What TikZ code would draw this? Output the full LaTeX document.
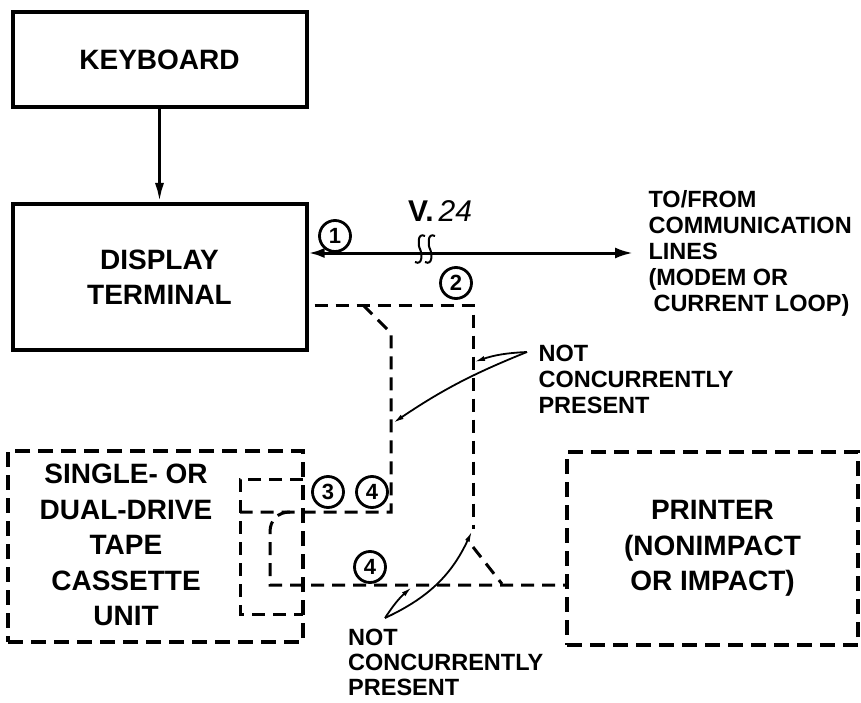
\documentclass[tikz,border=0pt]{standalone}
\usepackage{fontspec}
\setmainfont{Liberation Sans}
\usepackage{tikz}
\usetikzlibrary{arrows.meta}
\tikzset{
	solidbox/.style={draw, line width=4pt, minimum width=294pt},
	dashbox/.style={draw, line width=4pt, dash pattern=on 15pt off 8pt},
	sigline/.style={line width=3pt, dash pattern=on 13pt off 8pt},
	numcirc/.style={circle, draw, line width=2.8pt, minimum size=31pt, inner sep=0pt,
		font=\bfseries\fontsize{22}{22}\selectfont},
	boxtext/.style={font=\bfseries\fontsize{28}{35.5}\selectfont, align=center},
	notetext/.style={font=\bfseries\fontsize{23.5}{26}\selectfont, align=left},
	pointer/.style={line width=1.8pt, -{Latex[length=11pt,width=5pt]}}
}

\begin{document}
\begin{tikzpicture}[x=1pt, y=-1pt]
			\useasboundingbox (0,0) rectangle (861,703);

			% Units
			\node[solidbox, minimum height=95pt, boxtext] (keyboard) at (159.5,59.5) {KEYBOARD};
			\node[solidbox, minimum height=146pt, boxtext] (display) at (159.5,277) {DISPLAY\\TERMINAL};
			\node[dashbox, minimum width=295pt, minimum height=191pt] (tape) at (155.5,546.5) {};
			\node[boxtext] (tapetext) at (126,545) {SINGLE-\ OR\\DUAL-DRIVE\\TAPE\\CASSETTE\\UNIT};
			\node[dashbox, minimum width=291pt, minimum height=193pt, boxtext] (printer) at (712.5,548.5)
				{PRINTER\\(NONIMPACT\\OR IMPACT)};

			\draw[line width=3pt, -{Latex[length=19pt,width=9pt]}] (keyboard) -- (display);

			% Interface 1 (V.24)
			\coordinate (comm) at (633,253);
			\draw[line width=3pt, {Latex[length=16pt,width=10pt]}-{Latex[length=18pt,width=11pt]}]
				([yshift=24pt]display.east) -- (comm);
			\node[notetext, anchor=west] (commtext) at (645,253.5)
				{TO/FROM\\COMMUNICATION\\LINES\\(MODEM OR\\\hspace*{5pt}CURRENT LOOP)};
			\node[font=\fontsize{30}{30}\selectfont] (v24) at (440,211) {\textbf{V.}\,\textit{24}};
			\foreach \sx in {420,430}
				\draw[line width=2pt] (\sx+5,236) .. controls (\sx-3,232) and (\sx-2,246) .. (\sx,249)
					.. controls (\sx+2,253) and (\sx+3,266) .. (\sx-5,262);

			% Interfaces 2, 3, 4
			\coordinate (j2) at (473,529);
			\coordinate (j4) at (270,585);
			\draw[sigline] ([xshift=6pt,yshift=-28pt]display.east) -| (j2);
			\draw[sigline] (473,547) -- (502,584);
			\draw[sigline] (290,512) .. controls (278,512) and (270,520) .. (270,532) -- (j4) -- (j4 -| printer.west);
			\draw[sigline] (363,305) -- (391,333) -- (391,512) -- (240,512);
			\draw[sigline] (303,479) -- (240,479) -- (240,614) -- (303,614);

			\node[numcirc] (n1) at (335,236) {1};
			\node[numcirc] (n2) at (456,283) {2};
			\node[numcirc] (n3) at (328,492) {3};
			\node[numcirc] (n4a) at (372,492) {4};
			\node[numcirc] (n4b) at (370,567) {4};

			% Not concurrently present
			\node[notetext, anchor=west] (notA) at (535,379) {NOT\\CONCURRENTLY\\PRESENT};
			\node[notetext, anchor=west, inner sep=1pt, font=\bfseries\fontsize{23.5}{25}\selectfont]
				(notB) at (347,662) {NOT\\CONCURRENTLY\\PRESENT};
			\coordinate (apexA) at (527,352);
			\coordinate (apexB) at (385,618);
			\draw[pointer] (apexA) to[bend right=6] (393,423);
			\draw[pointer] (apexA) to[bend right=8] (474,362);
			\draw[pointer] (apexB) to[bend right=20] (472,531);
			\draw[pointer] (apexB) to[bend left=8] (412,587);
		\end{tikzpicture}
\end{document}
